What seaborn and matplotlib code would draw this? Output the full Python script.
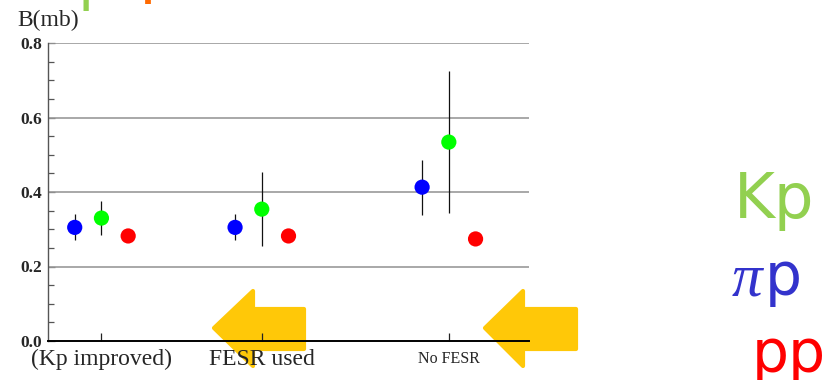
import matplotlib
matplotlib.use("Agg")
import matplotlib.pyplot as plt
from matplotlib.patches import Polygon
from matplotlib.ticker import MultipleLocator
import numpy as np
import pandas as pd
import seaborn as sns

# Slope parameter B (mb) for three fit variants
groups = ["(Kp improved)", "FESR used", "No FESR"]
reactions = ["πp", "Kp", "pp"]
b_pip = [0.305, 0.305, 0.413]
b_pip_err = [0.035, 0.035, 0.074]
b_kp = [0.330, 0.354, 0.534]
b_kp_err = [0.045, 0.099, 0.190]
b_pp = [0.282, 0.282, 0.274]
b_pp_err = [0.0, 0.0, 0.0]
y_ticks = [0.0, 0.2, 0.4, 0.6, 0.8]

# layout of the horizontal axis
group_x = [0.5, 2.0, 3.75]
offsets = {"πp": -0.25, "Kp": 0.0, "pp": 0.25}
point_colors = {"πp": "#0000ff", "Kp": "#00ff00", "pp": "#ff0000"}

rows = []
for vals, errs, name in [(b_pip, b_pip_err, "πp"), (b_kp, b_kp_err, "Kp"), (b_pp, b_pp_err, "pp")]:
    for gx, g, v, e in zip(group_x, groups, vals, errs):
        rows.append({"group": g, "reaction": name, "x": gx + offsets[name], "B": v, "err": e})
df = pd.DataFrame(rows)

sns.set_style("white")
W, H = 834, 380
fig = plt.figure(figsize=(W / 100, H / 100), dpi=100)
ax = fig.add_axes([48 / W, 1 - 341 / H, 481 / W, 298 / H])
ax.patch.set_alpha(0)

# error bars first, then the dots on top
with_err = df[df["err"] > 0]
ax.errorbar(with_err["x"], with_err["B"], yerr=with_err["err"], fmt="none",
            ecolor="#111111", elinewidth=0.9, capsize=0, zorder=2)
sns.scatterplot(data=df, x="x", y="B", hue="reaction", palette=point_colors,
                s=120, edgecolor="none", legend=False, ax=ax, zorder=3)

ax.set_xlim(0, 4.5)
ax.set_ylim(0, 0.8)
ax.set_xlabel("")
ax.set_ylabel("")

for yv in y_ticks[1:]:
    ax.axhline(yv, color="#9a9a9a", lw=1.2, zorder=1)

ax.set_yticks(y_ticks)
ax.set_yticklabels([f"{v:.1f}" for v in y_ticks], fontfamily="Liberation Serif",
                   fontweight="bold", fontsize=12.5)
ax.yaxis.set_minor_locator(MultipleLocator(0.05))
ax.tick_params(axis="y", which="major", direction="in", length=5, width=0.9,
               color="#555555", pad=4, left=True)
ax.tick_params(axis="y", which="minor", direction="in", length=4, width=0.9,
               color="#555555", left=True)

ax.set_xticks(group_x)
ax.set_xticklabels(groups, fontfamily="Liberation Serif")
ax.tick_params(axis="x", which="major", direction="in", length=6, width=0.9,
               color="#222222", pad=13, bottom=True)
for lab, fs in zip(ax.get_xticklabels(), [17, 17, 11.5]):
    lab.set_fontsize(fs)
    lab.set_va("center")

for side in ["top", "right"]:
    ax.spines[side].set_visible(False)
ax.spines["left"].set_color("#555555")
ax.spines["left"].set_linewidth(1.0)
ax.spines["bottom"].set_color("#000000")
ax.spines["bottom"].set_linewidth(1.4)

fig.text(48 / W, 1 - 20 / H, "B(mb)", fontfamily="Liberation Serif", fontsize=17,
         ha="center", va="center")


def px(x, y):
    return (x / W, 1 - y / H)


# yellow arrows behind the axes
arrow_color = "#ffc808"
for tip_x, neck_x, tail_x in [(214, 253, 304), (485, 523, 576)]:
    verts = [px(tip_x, 328), px(neck_x, 291), px(neck_x, 309), px(tail_x, 309),
             px(tail_x, 349), px(neck_x, 349), px(neck_x, 366)]
    fig.patches.append(Polygon(verts, closed=True, transform=fig.transFigure,
                               facecolor=arrow_color, edgecolor=arrow_color,
                               lw=3, joinstyle="round", zorder=-1))

# reaction labels on the right
fig.text(734 / W, 1 - 218 / H, "Kp", color="#92d050", fontfamily="DejaVu Sans",
         fontsize=45, ha="left", va="baseline")
fig.text(732 / W, 1 - 295 / H, "π", color="#3333cc", fontfamily="Liberation Serif",
         fontstyle="italic", fontsize=44, ha="left", va="baseline")
fig.text(765 / W, 1 - 295 / H, "p", color="#3333cc", fontfamily="DejaVu Sans",
         fontsize=42, ha="left", va="baseline")
fig.text(752 / W, 1 - 372 / H, "pp", color="#ff0000", fontfamily="DejaVu Sans",
         fontsize=42, ha="left", va="baseline")

# heading cut by the top edge
fig.text(40 / W, 1 + 1 / H, "Kp", color="#92d050", fontfamily="DejaVu Sans",
         fontsize=42, ha="left", va="baseline")
fig.text(134 / W, 1 - 4 / H, "?", color="#ff6a00", fontfamily="DejaVu Sans",
         fontsize=42, ha="left", va="baseline")

fig.savefig("out.png", dpi=100)
